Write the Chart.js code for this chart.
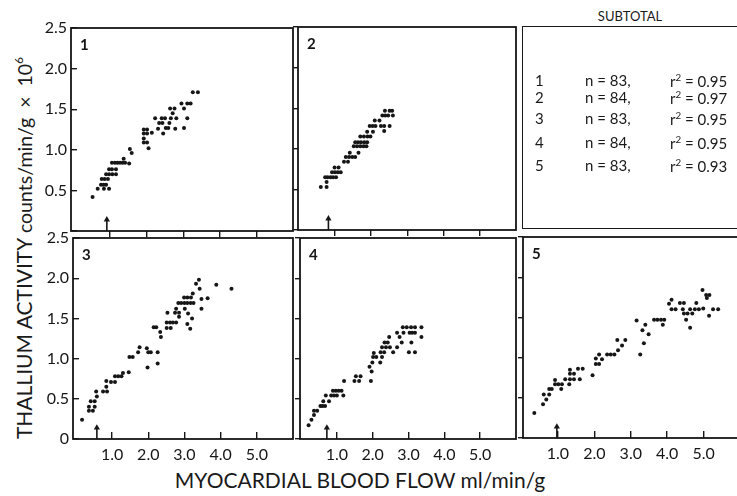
<!DOCTYPE html>
<html>
<head>
<meta charset="utf-8">
<script src="https://cdn.jsdelivr.net/npm/chart.js@4.4.1/dist/chart.umd.min.js"></script>
<style>
html,body{margin:0;padding:0;background:#fff;overflow:hidden;}
#wrap{position:relative;width:737px;height:496px;overflow:hidden;background:#fff;font-family:Lato,"DejaVu Sans",sans-serif;color:#1a1a1a;}
canvas.panel{position:absolute;left:0;top:0;}
#ytitle{position:absolute;left:24px;top:248px;transform:translate(-50%,-50%) rotate(-90deg);white-space:nowrap;font-size:21px;line-height:1;}
#ytitle .lc{font-size:19.5px;}
#ytitle sup{font-size:62%;vertical-align:0.75em;}
#xtitle{position:absolute;left:360px;top:469px;transform:translateX(-50%);white-space:nowrap;font-size:21px;line-height:1;}
#sub{position:absolute;left:522px;top:26px;width:230px;height:203px;border:1.8px solid #1a1a1a;box-sizing:border-box;}
#subtitle{position:absolute;left:630px;top:10px;transform:translateX(-50%);font-size:13px;line-height:1;}
.srow{position:absolute;font-size:15px;line-height:1;white-space:nowrap;}
</style>
</head>
<body>
<div id="wrap">
  <div id="ytitle">THALLIUM ACTIVITY <span class="lc">counts/min/g&nbsp; &times;&nbsp; 10<sup>6</sup></span></div>
  <div id="xtitle">MYOCARDIAL BLOOD FLOW ml/min/g</div>
  <div id="subtitle">SUBTOTAL</div>
  <div id="sub"></div>
</div>
<script>
// ---------- data ----------
const xTickValues = [1, 2, 3, 4, 5];
const yTickStep = 0.5;

const flow1 = [0.52,0.66,0.83,0.97,0.75,0.82,0.89,0.77,0.85,0.94,0.89,0.97,1.06,1.16,0.97,1.05,1.16,1.05,1.13,1.20,1.27,1.34,1.41,1.37,1.52,1.54,1.59,1.92,2.01,1.92,2.01,1.92,1.92,2.01,2.05,2.14,2.23,2.31,2.34,2.43,2.41,2.50,2.45,2.52,2.59,2.64,2.76,2.71,2.66,2.81,2.62,2.78,2.95,3.11,3.20,3.02,3.11,3.02,3.26,3.40];
const act1  = [0.42,0.52,0.52,0.52,0.57,0.57,0.57,0.64,0.64,0.64,0.70,0.70,0.70,0.70,0.76,0.76,0.76,0.84,0.84,0.84,0.84,0.84,0.84,0.89,0.83,1.01,0.96,1.25,1.25,1.20,1.20,1.14,1.09,1.09,1.02,1.21,1.39,1.26,1.33,1.33,1.39,1.39,1.20,1.27,1.27,1.51,1.51,1.45,1.39,1.39,1.33,1.26,1.57,1.57,1.57,1.51,1.39,1.27,1.71,1.71];

const flow2 = [0.61,0.77,0.77,0.73,0.80,0.88,0.95,1.03,0.92,1.00,1.08,1.16,0.99,1.10,1.25,1.36,1.30,1.39,1.48,1.56,1.41,1.65,1.52,1.61,1.70,1.79,1.87,1.56,1.64,1.72,1.81,1.89,1.70,1.80,1.90,1.98,1.89,2.05,1.96,2.04,2.12,2.27,2.36,2.51,2.36,2.10,2.23,2.31,2.39,2.47,2.60,2.38,2.51,2.58];
const act2  = [0.53,0.53,0.59,0.65,0.65,0.65,0.65,0.65,0.71,0.71,0.71,0.71,0.77,0.77,0.84,0.84,0.90,0.90,0.90,0.90,0.95,0.95,1.03,1.03,1.03,1.03,1.03,1.08,1.08,1.08,1.08,1.08,1.15,1.15,1.15,1.15,1.21,1.21,1.28,1.28,1.28,1.28,1.28,1.28,1.22,1.35,1.35,1.41,1.41,1.41,1.41,1.47,1.47,1.47];

const flow3 = [0.17,0.36,0.47,0.36,0.52,0.41,0.52,0.58,0.56,0.75,0.86,0.84,0.84,0.97,1.08,1.08,1.17,1.26,1.30,1.46,1.48,1.57,1.72,1.76,1.96,2.00,2.07,1.98,2.26,2.26,2.15,2.22,2.33,2.35,2.53,2.51,2.60,2.68,2.77,2.51,2.62,2.74,2.85,2.77,2.85,2.83,2.91,3.00,3.08,3.17,3.25,2.99,3.08,3.18,3.01,3.10,3.08,3.16,3.21,3.23,3.32,3.40,3.42,3.47,3.47,3.64,3.88,4.30];
const act3  = [0.24,0.35,0.35,0.40,0.40,0.47,0.47,0.53,0.59,0.59,0.59,0.65,0.72,0.71,0.71,0.78,0.78,0.78,0.82,0.83,1.02,1.02,1.08,1.14,1.13,1.08,1.08,0.89,1.08,0.94,1.39,1.39,1.33,1.27,1.57,1.45,1.45,1.45,1.45,1.38,1.38,1.57,1.57,1.62,1.52,1.69,1.69,1.69,1.69,1.69,1.69,1.76,1.76,1.76,1.62,1.56,1.43,1.37,1.50,1.81,1.93,1.98,1.87,1.74,1.62,1.75,1.92,1.87];

const flow4 = [0.21,0.29,0.36,0.36,0.45,0.54,0.60,0.67,0.62,0.78,0.69,0.84,0.92,1.00,1.18,0.89,0.97,1.05,1.13,1.20,1.49,1.62,1.53,1.66,1.95,1.91,1.97,1.99,2.01,2.10,2.03,2.21,2.26,2.22,2.32,2.26,2.37,2.48,2.33,2.42,2.46,2.57,2.68,2.68,2.75,2.81,2.86,2.84,2.95,3.01,3.18,3.03,3.10,3.18,3.07,3.18,3.08,3.36,3.36];
const act4  = [0.17,0.24,0.30,0.35,0.35,0.41,0.41,0.41,0.47,0.47,0.54,0.54,0.54,0.54,0.54,0.60,0.60,0.60,0.60,0.72,0.72,0.72,0.78,0.78,0.72,0.90,0.84,0.95,1.02,1.02,1.07,0.95,1.02,1.08,1.08,1.14,1.14,1.14,1.20,1.20,1.27,1.08,1.14,1.32,1.27,1.20,1.32,1.39,1.39,1.08,1.08,1.32,1.32,1.32,1.39,1.39,1.20,1.39,1.27];

const flow5 = [0.35,0.59,0.68,0.61,0.76,0.76,0.83,0.92,1.01,1.11,0.92,1.09,1.20,1.33,1.44,1.31,1.33,1.44,1.33,1.55,1.68,1.60,1.95,2.04,2.13,2.04,2.13,2.21,2.35,2.45,2.55,2.65,2.76,2.63,2.85,3.16,3.26,3.32,3.36,3.40,3.49,3.64,3.73,3.83,3.92,3.88,4.05,4.12,4.12,4.23,4.35,4.46,4.43,4.46,4.56,4.52,4.63,4.69,4.63,4.80,4.76,4.87,4.99,4.97,5.07,5.16,5.09,5.15,5.26,5.40];
const act5  = [0.31,0.42,0.48,0.54,0.54,0.61,0.61,0.67,0.67,0.67,0.72,0.61,0.73,0.73,0.73,0.67,0.80,0.80,0.85,0.86,0.86,0.73,0.78,0.92,0.92,0.99,1.04,0.98,1.04,1.04,1.04,1.09,1.15,1.22,1.22,1.46,1.04,1.34,1.18,1.41,1.29,1.47,1.47,1.47,1.47,1.41,1.67,1.72,1.60,1.60,1.68,1.68,1.60,1.55,1.55,1.47,1.37,1.55,1.60,1.68,1.60,1.60,1.61,1.84,1.78,1.78,1.74,1.52,1.60,1.60];

const arrowFlow = [0.91, 0.82, 0.58, 0.72, 0.97];
const panelNames = ['1', '2', '3', '4', '5'];

const subtotalIds = ['1', '2', '3', '4', '5'];
const subtotalN  = [83, 84, 83, 84, 83];
const subtotalR2 = ['0.95', '0.97', '0.95', '0.95', '0.93'];

// ---------- layout (style) ----------
const INK = '#161616';
const panels = [
  {flow: flow1, act: act1, rect: [71, 28, 293, 231],  xMin: -0.07, top: true,  yLabels: true},
  {flow: flow2, act: act2, rect: [298, 27, 516, 230], xMin: -0.02, top: true,  yLabels: false},
  {flow: flow3, act: act3, rect: [73, 238, 293, 439], xMin: -0.08, top: false, yLabels: true},
  {flow: flow4, act: act4, rect: [300, 238, 516, 439],xMin: -0.03, top: false, yLabels: false},
  {flow: flow5, act: act5, rect: [523, 237, 740, 438],xMin: 0.04,  top: false, yLabels: false}
];

Chart.defaults.font.family = 'Lato';
Chart.defaults.color = INK;

const boxPlugin = {
  id: 'panelBox',
  afterDatasetsDraw(chart, args, opts) {
    const {ctx, chartArea: a} = chart;
    ctx.save();
    ctx.strokeStyle = INK;
    ctx.lineWidth = 1.8;
    ctx.strokeRect(a.left, a.top, a.right - a.left, a.bottom - a.top);
    ctx.font = 'bold 15px Lato';
    ctx.fillStyle = INK;
    ctx.textBaseline = 'top';
    ctx.fillText(opts.label, a.left + 9, a.top + 10);
    ctx.restore();
  }
};

const wrap = document.getElementById('wrap');
const CW = 760, CH = 496;

panels.forEach((p, i) => {
  const cv = document.createElement('canvas');
  cv.width = CW; cv.height = CH; cv.className = 'panel';
  cv.style.width = CW + 'px'; cv.style.height = CH + 'px';
  wrap.appendChild(cv);
  const [L, T, R, B] = p.rect;
  const yW = p.yLabels ? 40 : 6;
  const xH = p.top ? 6 : 28;
  new Chart(cv, {
    type: 'scatter',
    data: {
      datasets: [
        {
          data: p.flow.map((x, k) => ({x: x, y: p.act[k]})),
          pointRadius: 2.0, pointBackgroundColor: INK, pointBorderWidth: 0, showLine: false
        },
        {
          type: 'line',
          data: [{x: arrowFlow[i], y: 0}, {x: arrowFlow[i], y: 0.14}],
          borderColor: INK, borderWidth: 1.6, showLine: true,
          pointRadius: [0, 3.6], pointStyle: 'triangle',
          pointBackgroundColor: INK, pointBorderWidth: 0
        }
      ]
    },
    options: {
      responsive: false, animation: false, events: [],
      layout: {padding: {left: L - yW, top: T, right: CW - R, bottom: CH - B - xH}},
      plugins: {legend: {display: false}, tooltip: {enabled: false}, panelBox: {label: panelNames[i]}},
      scales: {
        x: {
          type: 'linear', min: p.xMin, max: 6,
          afterBuildTicks: s => { s.ticks = xTickValues.map(v => ({value: v})); },
          afterFit: s => { s.height = xH; s.paddingLeft = 0; s.paddingRight = 0; s.paddingTop = 0; s.paddingBottom = 0; },
          grid: {display: true, drawOnChartArea: false, drawTicks: true, tickLength: p.top ? 6 : -7, color: INK, lineWidth: 1.4},
          border: {display: false},
          ticks: {display: !p.top, padding: 13, autoSkip: false, maxRotation: 0, font: {size: 16}, color: INK,
                  callback: v => Number(v).toFixed(1)}
        },
        y: {
          type: 'linear', min: 0, max: 2.5, position: 'left',
          afterFit: s => { s.width = yW; s.paddingTop = 0; s.paddingBottom = 0; s.paddingLeft = 0; s.paddingRight = 0; },
          grid: {display: true, drawOnChartArea: false, drawTicks: true, tickLength: p.yLabels ? -6 : 5, color: INK, lineWidth: 1.4},
          border: {display: false},
          ticks: {display: p.yLabels, stepSize: yTickStep, padding: 10, font: {size: 16}, color: INK,
                  callback: v => v === 0 ? (p.top ? '' : '0') : Number(v).toFixed(1)}
        }
      }
    },
    plugins: [boxPlugin]
  });
});

// subtotal box text
const rowY = [73, 90, 111, 135, 158];
subtotalIds.forEach((id, k) => {
  const a = document.createElement('div'); a.className = 'srow';
  a.style.left = '535px'; a.style.top = rowY[k] + 'px'; a.textContent = id; wrap.appendChild(a);
  const b = document.createElement('div'); b.className = 'srow';
  b.style.left = '585px'; b.style.top = rowY[k] + 'px'; b.textContent = 'n = ' + subtotalN[k] + ','; wrap.appendChild(b);
  const c = document.createElement('div'); c.className = 'srow';
  c.style.left = '670px'; c.style.top = rowY[k] + 'px'; c.innerHTML = 'r<sup style="font-size:65%">2</sup> = ' + subtotalR2[k]; wrap.appendChild(c);
});
</script>
</body>
</html>
